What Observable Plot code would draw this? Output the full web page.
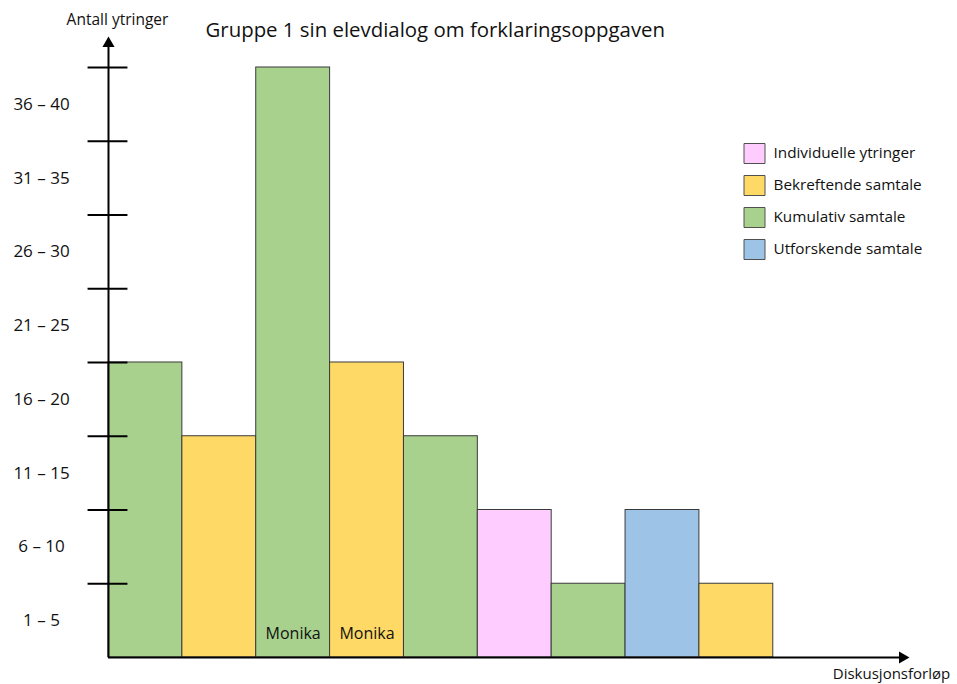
<!DOCTYPE html>
<html>
<head>
<meta charset="utf-8">
<script src="https://cdn.jsdelivr.net/npm/d3@7"></script>
<script src="https://cdn.jsdelivr.net/npm/@observablehq/plot@0.6"></script>
<style>
  html, body { margin: 0; padding: 0; background: #fff; }
</style>
</head>
<body>
<div id="chart"></div>
<script>
// Sequence of dialogue segments for group 1, left to right
const talkTypes = [
  "Kumulativ samtale", "Bekreftende samtale", "Kumulativ samtale",
  "Bekreftende samtale", "Kumulativ samtale", "Individuelle ytringer",
  "Kumulativ samtale", "Utforskende samtale", "Bekreftende samtale"
];
const utterances = [20, 15, 40, 20, 15, 10, 5, 10, 5];
const speakers = ["", "", "Monika", "Monika", "", "", "", "", ""];

// Utterance-count bands on the vertical axis
const bandLabels = ["1 – 5", "6 – 10", "11 – 15", "16 – 20", "21 – 25", "26 – 30", "31 – 35", "36 – 40"];
const bandEdges = [5, 10, 15, 20, 25, 30, 35, 40];

// Legend
const legendTypes = ["Individuelle ytringer", "Bekreftende samtale", "Kumulativ samtale", "Utforskende samtale"];
const legendColors = ["#FFCCFF", "#FFD966", "#A9D18E", "#9DC3E6"];

const colorOf = Object.fromEntries(legendTypes.map((t, i) => [t, legendColors[i]]));

const bars = utterances.map((v, i) => ({i, value: v, type: talkTypes[i], speaker: speakers[i]}));
const bands = bandLabels.map((label, i) => ({label, mid: bandEdges[i] - 2.5}));

const xMax = 10.79;  // axis runs past the last segment to the arrow head
const yMax = 41.83;

const font = "'Open Sans', Lato, sans-serif";

const hline = {
  draw(ctx, size) {
    const r = Math.sqrt(size) / 2;
    ctx.moveTo(-r, 0);
    ctx.lineTo(r, 0);
  }
};
const box = {
  draw(ctx) { ctx.rect(-10.5, -10, 21, 20); }
};

const legendMarks = legendTypes.flatMap((t, k) => [
  Plot.dot([t], {
    frameAnchor: "top-right", dx: -151, dy: 113 + k * 32,
    symbol: box, fill: legendColors[k], stroke: "#505050", strokeWidth: 1
  }),
  Plot.text([t], {
    frameAnchor: "top-right", dx: -132, dy: 113 + k * 32,
    text: d => d, textAnchor: "start", lineAnchor: "middle",
    fontSize: 15.3, fill: "#111"
  })
]);

const chart = Plot.plot({
  width: 957,
  height: 684,
  marginLeft: 108,
  marginRight: 52,
  marginTop: 40,
  marginBottom: 27,
  x: {domain: [0, xMax], axis: null},
  y: {domain: [0, yMax], axis: null},
  style: {fontFamily: font, background: "#fff", overflow: "visible"},
  marks: [
    Plot.rectY(bars, {
      x1: d => d.i, x2: d => d.i + 1, y1: 0, y2: "value",
      fill: d => colorOf[d.type], stroke: "#3a3a3a", strokeWidth: 1
    }),
    Plot.text(bars.filter(d => d.speaker), {
      x: d => d.i + 0.5, y: 0, dy: -24, text: "speaker",
      fontSize: 16, fill: "#111"
    }),
    // axes with arrow heads
    Plot.ruleX([0], {y1: 0, y2: yMax, stroke: "#000", strokeWidth: 2}),
    Plot.ruleY([0], {x1: 0, x2: xMax, stroke: "#000", strokeWidth: 2}),
    Plot.dot([0], {x: 0, y: yMax, symbol: "triangle", r: 4.5, fill: "#000", dy: 3}),
    Plot.dot([0], {x: xMax, y: 0, symbol: "triangle", r: 4.5, fill: "#000", rotate: 90, dx: -3}),
    // band boundaries crossing the vertical axis
    Plot.dot(bandEdges, {x: 0, y: d => d, symbol: hline, r: 22.5, stroke: "#000", strokeWidth: 2, dx: -1}),
    Plot.text(bands, {
      x: 0, y: "mid", text: "label", dx: -67, textAnchor: "middle",
      fontSize: 17, fill: "#111"
    }),
    Plot.text(["Gruppe 1 sin elevdialog om forklaringsoppgaven"], {
      frameAnchor: "top-left", dx: 97, dy: -10, text: d => d,
      textAnchor: "start", lineAnchor: "middle", fontSize: 20.4, fill: "#111"
    }),
    Plot.text(["Antall ytringer"], {
      frameAnchor: "top-left", dx: 9, dy: -20, text: d => d,
      textAnchor: "middle", lineAnchor: "middle", fontSize: 15.5, fill: "#111"
    }),
    Plot.text(["Diskusjonsforløp"], {
      frameAnchor: "bottom-right", dx: -14, dy: 17, text: d => d,
      textAnchor: "middle", lineAnchor: "middle", fontSize: 15, fill: "#111"
    }),
    ...legendMarks
  ]
});

document.getElementById("chart").appendChild(chart);
</script>
</body>
</html>
